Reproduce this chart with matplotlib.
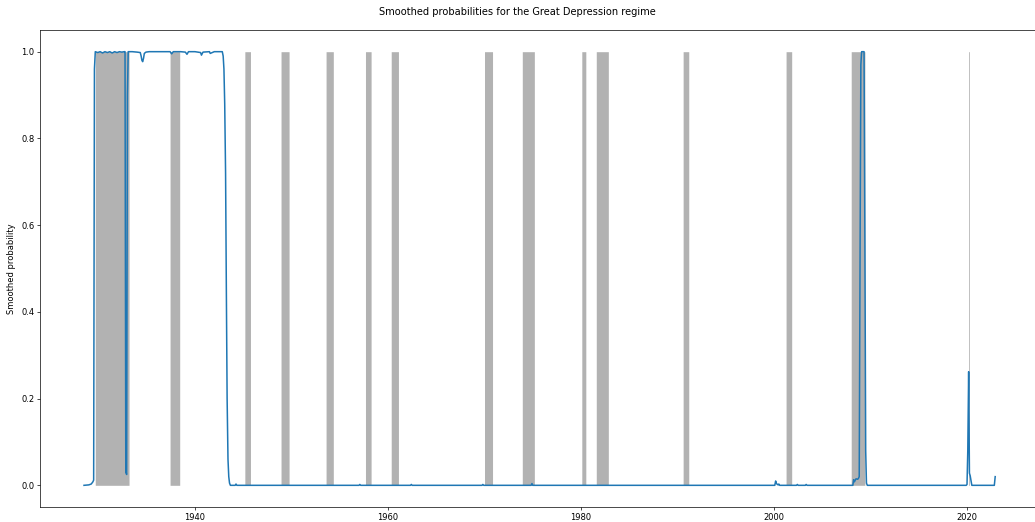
import matplotlib
matplotlib.use("Agg")
import matplotlib.pyplot as plt

# Smoothed probability of the Great Depression regime (decimal year, probability)
years = [
    1928.50, 1929.00, 1929.25, 1929.42, 1929.50, 1929.58, 1929.67,
    1929.92, 1930.17, 1930.42, 1930.67, 1930.92, 1931.17, 1931.42,
    1931.67, 1931.92, 1932.17, 1932.42, 1932.67, 1932.75, 1932.83,
    1932.92, 1933.00, 1933.08, 1933.50, 1934.00, 1934.33, 1934.42,
    1934.50, 1934.58, 1934.67, 1934.75, 1934.92, 1935.25, 1936.00,
    1936.75, 1937.42, 1937.58, 1937.75, 1938.50, 1939.00, 1939.17,
    1939.33, 1940.00, 1940.58, 1940.67, 1940.83, 1941.50, 1941.58,
    1942.00, 1942.83, 1942.92, 1943.00, 1943.08, 1943.17, 1943.25,
    1943.33, 1943.42, 1943.50, 1943.58, 1943.67, 1944.17, 1944.25,
    1944.33, 1957.00, 1957.08, 1957.17, 1962.33, 1962.42, 1962.50,
    1969.75, 1969.83, 1969.92, 1974.83, 1974.92, 1975.00, 2000.08,
    2000.17, 2000.25, 2000.42, 2000.50, 2000.58, 2001.25, 2002.33,
    2002.42, 2002.50, 2003.25, 2003.33, 2003.42, 2008.17, 2008.25,
    2008.33, 2008.42, 2008.50, 2008.67, 2008.75, 2008.83, 2008.92,
    2009.00, 2009.08, 2009.33, 2009.42, 2009.50, 2009.58, 2009.67,
    2019.92, 2020.00, 2020.08, 2020.17, 2020.25, 2020.33, 2020.42,
    2020.50, 2022.83, 2022.92,
]
probs = [
    0.000, 0.001, 0.003, 0.008, 0.012, 0.960, 1.000,
    0.998, 1.000, 0.997, 1.000, 0.998, 1.000, 0.997,
    1.000, 0.998, 1.000, 0.999, 1.000, 1.000, 0.030,
    0.025, 0.900, 1.000, 1.000, 0.999, 0.998, 0.990,
    0.980, 0.977, 0.985, 0.996, 0.999, 1.000, 1.000,
    1.000, 1.000, 0.995, 1.000, 1.000, 0.999, 0.994,
    1.000, 1.000, 0.998, 0.992, 0.999, 1.000, 0.996,
    1.000, 1.000, 0.990, 0.960, 0.880, 0.720, 0.450,
    0.200, 0.060, 0.020, 0.005, 0.000, 0.000, 0.003,
    0.000, 0.000, 0.002, 0.000, 0.000, 0.002, 0.000,
    0.000, 0.002, 0.000, 0.000, 0.004, 0.000, 0.000,
    0.010, 0.004, 0.001, 0.003, 0.000, 0.000, 0.000,
    0.002, 0.000, 0.000, 0.002, 0.000, 0.000, 0.013,
    0.008, 0.012, 0.015, 0.014, 0.016, 0.020, 0.550,
    0.970, 1.000, 1.000, 0.550, 0.080, 0.005, 0.000,
    0.000, 0.002, 0.080, 0.262, 0.028, 0.022, 0.010,
    0.000, 0.000, 0.020,
]

# NBER recession months (first and last month flagged), as (year, month)
rec_start = [(1929, 9), (1937, 6), (1945, 3), (1948, 12), (1953, 8),
             (1957, 9), (1960, 5), (1970, 1), (1973, 12), (1980, 2),
             (1981, 8), (1990, 8), (2001, 4), (2008, 1), (2020, 3)]
rec_end = [(1933, 3), (1938, 6), (1945, 10), (1949, 10), (1954, 5),
           (1958, 4), (1961, 2), (1970, 11), (1975, 3), (1980, 7),
           (1982, 11), (1991, 3), (2001, 11), (2009, 6), (2020, 4)]

xticks = [1940, 1960, 1980, 2000, 2020]
yticks = [0.0, 0.2, 0.4, 0.6, 0.8, 1.0]


def dec_year(ym):
    return ym[0] + (ym[1] - 1) / 12.0


W, H = 1035, 522
fig = plt.figure(figsize=(W / 100, H / 100), dpi=100)
ax = fig.add_axes([40 / W, 15 / H, 1002 / W, 477 / H])

for s, e in zip(rec_start, rec_end):
    band = ax.fill_between([dec_year(s), dec_year(e)], 0, 1,
                           color="k", alpha=0.3, linewidth=0)
    band.set_snap(False)

ax.plot(years, probs, color="#1f77b4", lw=1.1)

ax.set_xlim(1923.94, 2027.77)
ax.set_xticks(xticks)
ax.set_xticklabels([str(t) for t in xticks])
ax.set_yticks(yticks)
ax.set_yticklabels([f"{t:.1f}" for t in yticks])
ax.tick_params(labelsize=6, length=2, width=0.5, pad=2)
for sp in ax.spines.values():
    sp.set_linewidth(0.5)
ax.set_ylabel("Smoothed probability", fontsize=6, labelpad=4)

fig.text(0.5, 1 - 12 / H, "Smoothed probabilities for the Great Depression regime",
         ha="center", va="center", fontsize=7.1)

fig.savefig("out.png", dpi=100)
